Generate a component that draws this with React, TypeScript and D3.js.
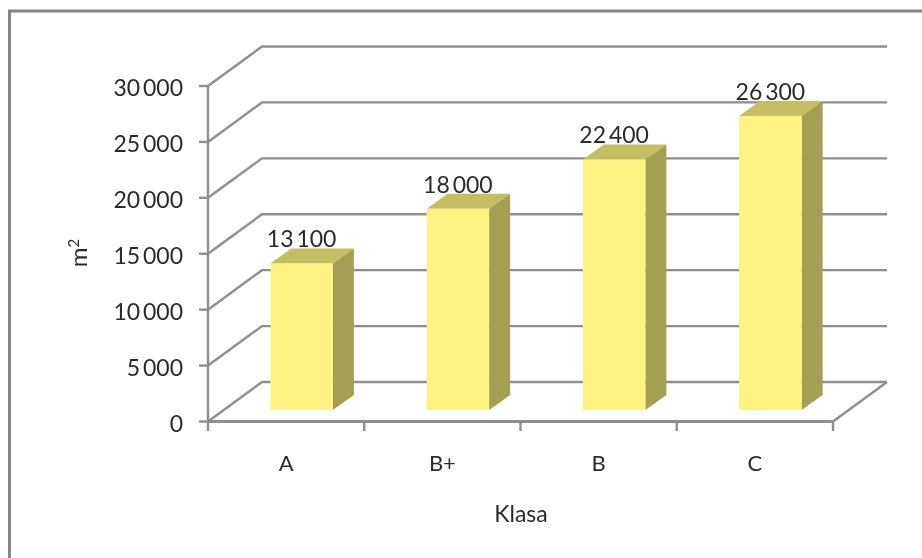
import * as d3 from 'd3'

const categories = ['A', 'B+', 'B', 'C']
const values = [13100, 18000, 22400, 26300]
const valueLabels = ['13 100', '18 000', '22 400', '26 300']
const yTicks = [0, 5000, 10000, 15000, 20000, 25000, 30000]
const yTickLabels = ['0', '5 000', '10 000', '15 000', '20 000', '25 000', '30 000']

const width = 922
const height = 558
const grey = '#8f8f8f'
const font = 'Lato, "Open Sans", sans-serif'
const textColor = '#2b2b2b'

// the fake 3d: offset of the back wall, and where the bars stand in the depth
const backDx = 54
const backDy = -39.5
const barDx = 15.5
const barDy = -11.5
const depthDx = 21
const depthDy = -15

const App = () => {
    const x = d3.scaleBand().domain(categories).range([208, 833])
    const y = d3.scaleLinear().domain([0, 30000]).range([421.5, 86])
    const barWidth = x.bandwidth() * 0.4
    const y0 = y(0)

    return (
        <svg
            width={width}
            height={height}
            style={{ position: 'absolute', left: 0, top: 0, background: '#fff' }}
            fontFamily={font}
        >
            <defs>
                <filter id='soft' x='-5%' y='-5%' width='110%' height='110%'>
                    <feGaussianBlur stdDeviation='0.6' />
                </filter>
            </defs>
            <g filter='url(#soft)'>
                {/* outer frame, runs off the right and bottom */}
                <path d={`M9.5,${height} V11 H${width}`} fill='none' stroke='#858585' strokeWidth={3} />

                {/* gridlines on the side and back walls */}
                <g fill='none' stroke={grey} strokeWidth={2.4}>
                    {yTicks.map((t) => (
                        <path
                            key={t}
                            d={`M208,${y(t)} l${backDx},${backDy} H${833 + backDx}`}
                        />
                    ))}
                    <path d={`M${833 + backDx},${y0 + backDy} L833,${y0}`} />
                    <path d={`M208,${y(30000)} V${y0}`} />
                    <path d={`M208,${y0} H833`} strokeWidth={2.8} />
                    {yTicks.map((t) => (
                        <path key={t} d={`M199,${y(t)} H208`} />
                    ))}
                    {[...categories.map((c) => x(c) as number), 833].map((v) => (
                        <path key={v} d={`M${v},${y0} V431`} />
                    ))}
                </g>

                {/* bars */}
                {categories.map((c, i) => {
                    const left = (x(c) as number) + (x.bandwidth() - barWidth) / 2 + barDx
                    const right = left + barWidth
                    const top = y(values[i]) + barDy
                    const bottom = y0 + barDy
                    return (
                        <g key={c}>
                            <path
                                d={`M${left},${top} l${depthDx},${depthDy} H${right + depthDx} L${right},${top} Z`}
                                fill='#c4be62'
                            />
                            <path
                                d={`M${right},${top} l${depthDx},${depthDy} V${bottom + depthDy} L${right},${bottom} Z`}
                                fill='#a3a052'
                            />
                            <rect x={left} y={top} width={barWidth} height={bottom - top} fill='#fdf282' />
                            <text
                                x={(left + right) / 2}
                                y={top - 16}
                                textAnchor='middle'
                                fontSize={23}
                                wordSpacing={-3}
                                fill={textColor}
                            >
                                {valueLabels[i]}
                            </text>
                        </g>
                    )
                })}

                {/* axis labels */}
                {yTicks.map((t, i) => (
                    <text
                        key={t}
                        x={183}
                        y={y(t) + 10}
                        textAnchor='end'
                        fontSize={23}
                        wordSpacing={-3}
                        fill={textColor}
                    >
                        {yTickLabels[i]}
                    </text>
                ))}
                {categories.map((c) => (
                    <text
                        key={c}
                        x={(x(c) as number) + x.bandwidth() / 2}
                        y={471}
                        textAnchor='middle'
                        fontSize={22}
                        fill={textColor}
                    >
                        {c}
                    </text>
                ))}
                <text x={521} y={522} textAnchor='middle' fontSize={23} fill={textColor}>
                    Klasa
                </text>
                <text
                    transform='translate(87,253) rotate(-90)'
                    textAnchor='middle'
                    fontSize={24}
                    fill={textColor}
                >
                    m
                    <tspan dy={-8} fontSize={15}>
                        2
                    </tspan>
                </text>
            </g>
        </svg>
    )
}

export default App
